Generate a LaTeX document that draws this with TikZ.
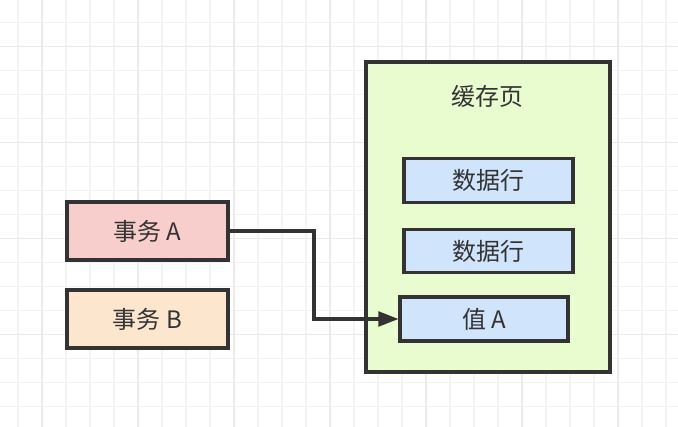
\documentclass[tikz,border=0pt]{standalone}
\usepackage{fontspec}
\setmainfont{Noto Sans CJK SC}
\usetikzlibrary{arrows.meta}
\definecolor{gridminor}{HTML}{F4F4F4}
\definecolor{gridmajor}{HTML}{EAEAEA}
\definecolor{strokec}{HTML}{333333}
\definecolor{txtc}{HTML}{333333}
\definecolor{redfill}{HTML}{F8CECC}
\definecolor{orangefill}{HTML}{FCE6CE}
\definecolor{greenfill}{HTML}{E8FCCF}
\definecolor{bluefill}{HTML}{D0E4FC}
\tikzset{
  box/.style={draw=strokec, line width=2.3pt, rectangle, inner sep=0pt,
    text=txtc, font=\fontsize{18pt}{21pt}\selectfont},
  conn/.style={draw=strokec, line width=2.3pt, -{Triangle[length=15pt,width=11pt]}},
  lbl/.style={text=txtc, font=\fontsize{18pt}{21pt}\selectfont, inner sep=0pt}
}
\begin{document}
\begin{tikzpicture}[x=0.75pt,y=-0.75pt]
\useasboundingbox (0,0) rectangle (678,427);
\fill[white] (0,0) rectangle (678,427);
% grid
\foreach \i in {0,...,27} {
  \draw[gridminor, line width=1pt] (18+24*\i,0) -- (18+24*\i,427);
}
\foreach \i in {0,...,17} {
  \draw[gridminor, line width=1pt] (0,22.5+24*\i) -- (678,22.5+24*\i);
}
\foreach \i in {0,...,6} {
  \draw[gridmajor, line width=1pt] (42+96*\i,0) -- (42+96*\i,427);
}
\foreach \i in {0,...,3} {
  \draw[gridmajor, line width=1pt] (0,46.5+96*\i) -- (678,46.5+96*\i);
}
% nodes
\node[box, fill=greenfill, minimum width=183pt, minimum height=232.5pt] (cache) at (488,217) {};
\node[lbl] (title) at (487,96) {缓存页};
\node[box, fill=redfill, minimum width=120.75pt, minimum height=43.5pt] (ta) at (147.5,231) {事务\ A};
\node[box, fill=orangefill, minimum width=120.75pt, minimum height=43.5pt] (tb) at (147.5,319) {事务\ B};
\node[box, fill=bluefill, minimum width=126.75pt, minimum height=32.5pt] (r1) at (488.5,180.5) {数据行};
\node[box, fill=bluefill, minimum width=126.75pt, minimum height=32.5pt] (r2) at (488.5,251) {数据行};
\node[box, fill=bluefill, minimum width=126pt, minimum height=33pt] (va) at (484,319) {值\ A};
% connector
\coordinate (bend) at (314,231);
\draw[conn] (ta.east) -- (bend) |- (va.west);
\end{tikzpicture}
\end{document}
